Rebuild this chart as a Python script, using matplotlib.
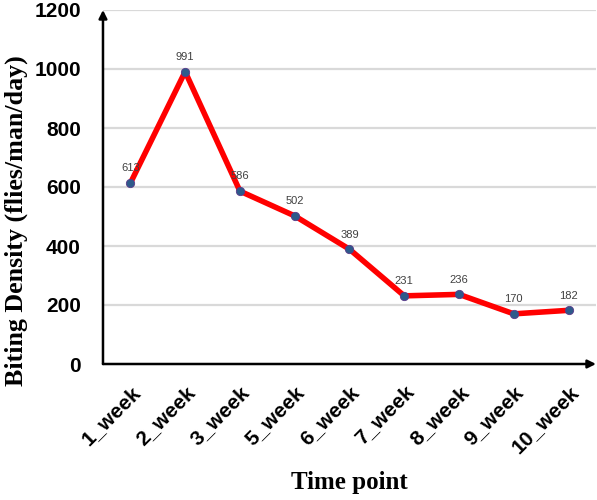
import matplotlib.pyplot as plt

# data
time_points = ['1_week', '2_week', '3_week', '5_week', '6_week',
               '7_week', '8_week', '9_week', '10_week']
biting_density = [613, 991, 586, 502, 389, 231, 236, 170, 182]
y_ticks = [0, 200, 400, 600, 800, 1000, 1200]

fig = plt.figure(figsize=(5.97, 5.0), dpi=100)
ax = fig.add_axes([0.1725, 0.272, 0.8258, 0.708])

x = list(range(len(time_points)))
ax.plot(x, biting_density, color='#FF0000', linewidth=4.0, zorder=3,
        marker='o', markersize=6, markerfacecolor='#2E5A8A',
        markeredgecolor='#5A3A8A', markeredgewidth=0.6)

for xi, v in zip(x, biting_density):
    ax.annotate(str(v), (xi, v), xytext=(0, 7), textcoords='offset points',
                ha='center', va='bottom', fontsize=8, color='#404040',
                family='Liberation Sans', zorder=4)

ax.set_xlim(-0.5, len(time_points) - 0.5)
ax.set_ylim(0, 1200)
ax.set_yticks(y_ticks)
ax.set_yticklabels([str(t) for t in y_ticks], fontsize=15,
                   fontweight='bold', family='Liberation Sans')
ax.set_xticks(x)
ax.set_xticklabels(time_points, rotation=45, ha='right', rotation_mode='anchor',
                   fontsize=15, fontweight='bold', family='Liberation Sans')
ax.tick_params(axis='both', length=0)
ax.tick_params(axis='y', pad=16)
ax.tick_params(axis='x', pad=13)

# light horizontal gridlines (not at zero)
for t in y_ticks[1:]:
    ax.axhline(t, color='#D9D9D9', linewidth=1.6, zorder=1)

for s in ax.spines.values():
    s.set_visible(False)

# axis arrows
ax.annotate('', xy=(1.0, 0), xytext=(0, 0), xycoords='axes fraction',
            arrowprops=dict(arrowstyle='-|>', color='black', lw=1.8,
                            mutation_scale=12, shrinkA=0, shrinkB=0),
            annotation_clip=False, zorder=5)
ax.annotate('', xy=(0, 1.0), xytext=(0, 0), xycoords='axes fraction',
            arrowprops=dict(arrowstyle='-|>', color='black', lw=1.8,
                            mutation_scale=12, shrinkA=0, shrinkB=0),
            annotation_clip=False, zorder=5)

ax.set_ylabel('Biting Density (flies/man/day)', fontsize=18.7, fontweight='bold',
              family='Liberation Serif')
ax.yaxis.set_label_coords(-0.152, 0.404)
ax.set_xlabel('Time point', fontsize=18, fontweight='bold',
              family='Liberation Serif')
ax.xaxis.set_label_coords(0.5, -0.302)

fig.savefig('out.png', dpi=100)
